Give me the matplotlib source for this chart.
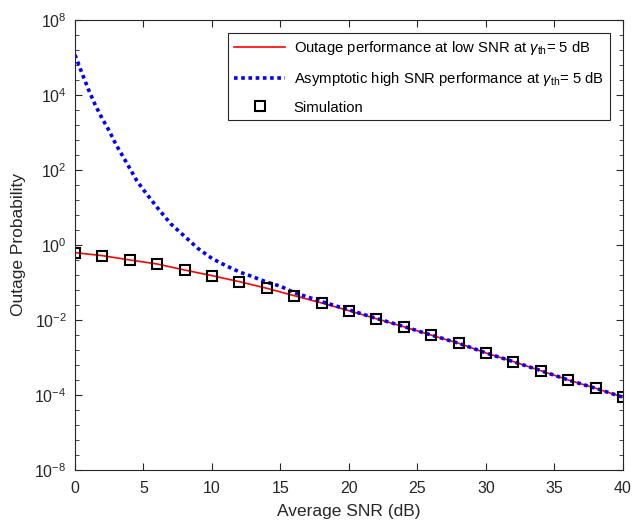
import numpy as np
import matplotlib
matplotlib.use("Agg")
import matplotlib.pyplot as plt
from matplotlib.ticker import FixedLocator, FixedFormatter

plt.rcParams["font.family"] = ["Liberation Sans", "DejaVu Sans"]
plt.rcParams["mathtext.fontset"] = "custom"
plt.rcParams["mathtext.rm"] = "Liberation Sans"
plt.rcParams["mathtext.it"] = "Liberation Sans:italic"

# simulation points / low SNR curve (every 2 dB)
snr_sim = [0, 2, 4, 6, 8, 10, 12, 14, 16, 18, 20, 22, 24, 26, 28, 30, 32, 34, 36, 38, 40]
p_low = [0.624, 0.519, 0.398, 0.311, 0.215, 0.152, 0.105, 0.070, 0.0445, 0.0284,
         0.0177, 0.0108, 0.00662, 0.00394, 0.00239, 0.00132, 7.73e-4, 4.45e-4,
         2.51e-4, 1.51e-4, 8.69e-5]

# asymptotic high SNR curve
snr_asy = [0, 0.5, 1, 1.5, 2, 2.5, 3, 3.5, 4, 4.5, 5, 6, 7, 8, 9, 10, 11, 12, 13,
           14, 15, 16, 18, 20, 22, 24, 26, 28, 30, 32, 34, 36, 38, 40]
p_asy = [1.17e5, 3.9e4, 1.35e4, 5.2e3, 2.3e3, 1.1e3, 468, 229, 110, 52.5, 29.5,
         10.0, 3.63, 1.70, 0.794, 0.437, 0.282, 0.191, 0.141, 0.102, 0.0794,
         0.0537, 0.0309, 0.0186, 0.0110, 0.00670, 0.00396, 0.00240, 0.00132,
         7.73e-4, 4.45e-4, 2.51e-4, 1.51e-4, 8.69e-5]

ytick_pos = [1e-6, 1e-4, 1e-2, 1e0, 1e2, 1e4, 1e6]
ytick_lab = ["$10^{-8}$", "$10^{-4}$", "$10^{-2}$", "$10^{0}$", "$10^{2}$", "$10^{4}$", "$10^{8}$"]

fig = plt.figure(figsize=(6.42, 5.25), dpi=100)
ax = fig.add_axes([0.1168, 0.1048, 0.8536, 0.8572])

ax.plot(snr_sim, p_low, color="red", linewidth=1.2,
        label=r"Outage performance at low SNR at $\gamma_{\rm th}$= 5 dB")
ax.plot(snr_asy, p_asy, color="blue", linestyle=(0, (1, 1)), linewidth=2.6,
        label=r"Asymptotic high SNR performance at $\gamma_{\rm th}$= 5 dB")
ax.plot(snr_sim, p_low, linestyle="none", marker="s", markersize=7.5,
        markerfacecolor="none", markeredgecolor="black", markeredgewidth=1.5,
        label="Simulation")

ax.set_yscale("log")
ax.set_xlim(0, 40)
ax.set_ylim(1e-6, 1e6)
ax.set_xticks([0, 5, 10, 15, 20, 25, 30, 35, 40])
ax.yaxis.set_major_locator(FixedLocator(ytick_pos))
ax.yaxis.set_major_formatter(FixedFormatter(ytick_lab))
minor = [10 ** (e / 10) for e in range(-60, 61, 4) if e % 20 != 0]
ax.yaxis.set_minor_locator(FixedLocator(minor))
ax.yaxis.set_minor_formatter(FixedFormatter([]))

ax.tick_params(which="both", direction="in", top=True, right=True,
               colors="#262626", labelsize=11.5)
ax.tick_params(which="major", length=5)
ax.tick_params(which="minor", length=3)
ax.tick_params(axis="x", pad=8)
ax.tick_params(axis="y", pad=6)
for s in ax.spines.values():
    s.set_color("#262626")

ax.set_xlabel("Average SNR (dB)", fontsize=12.5, color="#262626", labelpad=6)
ax.set_ylabel("Outage Probability", fontsize=12.5, color="#262626", labelpad=6)

leg = ax.legend(loc="upper right", fontsize=10.7, handlelength=3.4, labelspacing=0.85,
                handletextpad=0.6, borderaxespad=0.9, fancybox=False, framealpha=1,
                edgecolor="#262626")
leg.get_frame().set_linewidth(0.8)

fig.savefig("out.png", dpi=100)
